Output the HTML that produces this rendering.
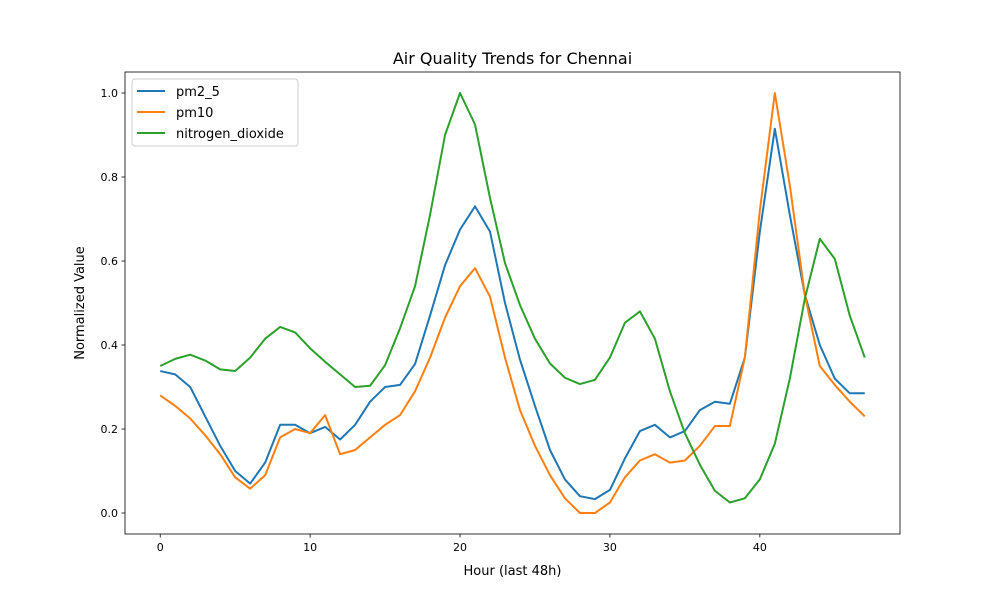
<!DOCTYPE html>
<html><head><meta charset="utf-8"><style>body{margin:0;background:#fff}svg text{font-family:"DejaVu Sans","Liberation Sans",sans-serif}</style></head>
<body>
<svg id="chart" width="1000" height="600" xmlns="http://www.w3.org/2000/svg">
<rect width="1000" height="600" fill="#fff"/>
<text x="512.5" y="64" font-size="16" text-anchor="middle">Air Quality Trends for Chennai</text>
<g id="plot"></g>
<rect x="125" y="72" width="775" height="462" fill="none" stroke="#000" stroke-width="0.8"/>
<text x="512.5" y="575" font-size="13" text-anchor="middle">Hour (last 48h)</text>
<text transform="translate(84,303) rotate(-90)" font-size="13" text-anchor="middle">Normalized Value</text>
<g>
<rect x="132" y="79" width="166" height="67" rx="3" fill="#fff" fill-opacity="0.8" stroke="#ccc"/>
<line x1="137" y1="91" x2="165" y2="91" stroke="#1f77b4" stroke-width="2"/>
<text x="176" y="96" font-size="13">pm2_5</text>
<line x1="137" y1="112" x2="165" y2="112" stroke="#ff7f0e" stroke-width="2"/>
<text x="176" y="117" font-size="13">pm10</text>
<line x1="137" y1="133" x2="165" y2="133" stroke="#2ca02c" stroke-width="2"/>
<text x="176" y="138" font-size="13">nitrogen_dioxide</text>
</g>
</svg>
<script>
const hours = Array.from({length:48},(_, i)=>i);
const pm25 = [.338,.33,.30,.23,.16,.10,.07,.12,.21,.21,.19,.205,.175,.21,.265,.30,.305,.355,.47,.59,.675,.73,.67,.50,.365,.255,.15,.08,.04,.033,.055,.13,.195,.21,.18,.195,.245,.265,.26,.37,.67,.915,.71,.52,.40,.32,.285,.285];
const pm10 = [.28,.255,.225,.185,.14,.085,.058,.09,.18,.20,.19,.233,.14,.15,.18,.21,.233,.29,.37,.465,.54,.583,.515,.37,.245,.16,.09,.035,0,0,.025,.085,.125,.14,.12,.125,.16,.207,.207,.37,.72,1.0,.78,.52,.35,.305,.265,.23];
const no2 = [.35,.367,.377,.363,.342,.338,.37,.415,.443,.43,.392,.36,.33,.30,.303,.352,.44,.54,.71,.90,1.0,.925,.75,.595,.495,.415,.356,.322,.307,.317,.37,.453,.48,.415,.29,.19,.115,.053,.025,.035,.08,.165,.32,.51,.653,.605,.47,.37];
const xTicks = [0,10,20,30,40];
const yTicks = [0,0.2,0.4,0.6,0.8,1.0];
const X0=125,X1=900,Y0=534,Y1=72;
const xMin=-2.35,xMax=49.35,yMin=-0.05,yMax=1.05;
const sx=v=>X0+(v-xMin)/(xMax-xMin)*(X1-X0);
const sy=v=>Y0-(v-yMin)/(yMax-yMin)*(Y0-Y1);
const NS="http://www.w3.org/2000/svg";
const g=document.getElementById('plot');
function mk(t,a){const e=document.createElementNS(NS,t);for(const k in a)e.setAttribute(k,a[k]);g.appendChild(e);return e;}
xTicks.forEach(t=>{
  const l=mk('line',{x1:sx(t),x2:sx(t),y1:Y0,y2:Y0+3.5,stroke:'#000','stroke-width':0.8});
  
  
  const tx=mk('text',{x:sx(t),y:Y0+17,'font-size':11,'text-anchor':'middle'});tx.textContent=t;
  
  
});
yTicks.forEach(t=>{
  const l=mk('line',{x1:X0-3.5,x2:X0,y1:sy(t),y2:sy(t),stroke:'#000','stroke-width':0.8});
  
  
  const tx=mk('text',{x:X0-7,y:sy(t)+4,'font-size':11,'text-anchor':'end'});tx.textContent=t.toFixed(1);
  
  
});
[[pm25,'#1f77b4','line-pm2_5'],[pm10,'#ff7f0e','line-pm10'],[no2,'#2ca02c','line-nitrogen-dioxide']].forEach(([d,c,n])=>{
  const p=mk('polyline',{points:d.map((v,i)=>sx(hours[i])+','+sy(v)).join(' '),fill:'none',stroke:c,'stroke-width':2,'stroke-linejoin':'round'});
  
  
});
</script>
</body></html>
